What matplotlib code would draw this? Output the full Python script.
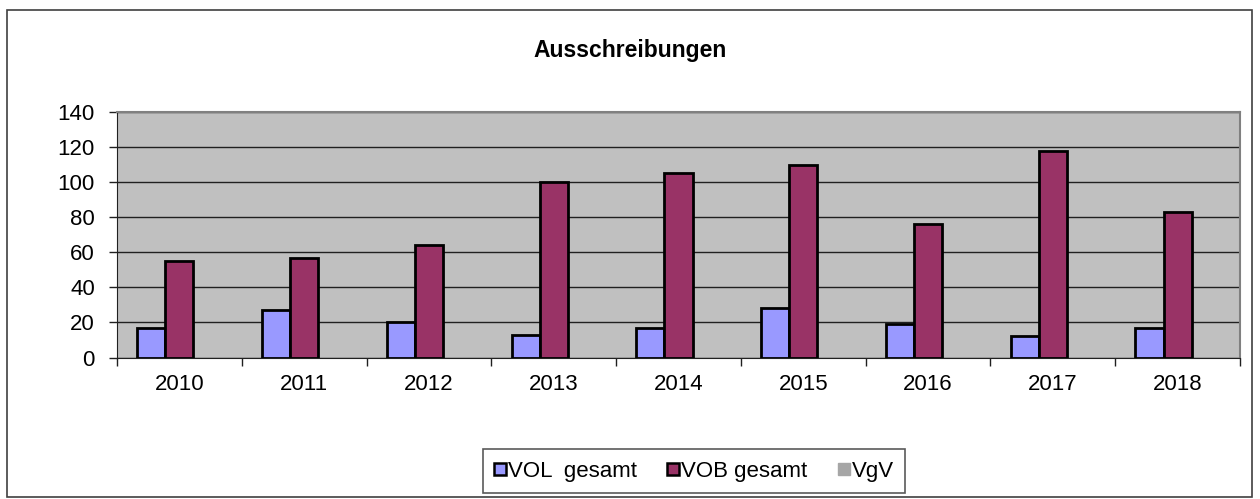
import numpy as np
import matplotlib.pyplot as plt
from matplotlib.patches import Rectangle
from matplotlib.lines import Line2D

plt.rcParams['font.family'] = ['Liberation Sans', 'DejaVu Sans']

years = ['2010', '2011', '2012', '2013', '2014', '2015', '2016', '2017', '2018']
vol = [17, 27, 20, 13, 17, 28, 19, 12, 17]
vob = [55, 57, 64, 100, 105, 110, 76, 118, 83]
vgv = [0, 0, 0, 0, 0, 0, 0, 0, 0]
labels = ['VOL  gesamt', 'VOB gesamt', 'VgV']
colors = ['#9999FF', '#993366', '#A6A6A6']

fig = plt.figure(figsize=(12.6, 4.99), dpi=100)
fig.patch.set_facecolor('white')

# outer chart border
fig.add_artist(Rectangle((7 / 1260, 1 - 497 / 499), 1245 / 1260, 487 / 499,
                         transform=fig.transFigure, fill=False,
                         edgecolor='#404040', linewidth=1.2))

ax = fig.add_axes([117 / 1260, 1 - 357.5 / 499, 1123 / 1260, 245.5 / 499])
ax.set_facecolor('#C0C0C0')

x = np.arange(len(years))
w = 0.225
ax.bar(x - w, vol, w, color=colors[0], edgecolor='black', linewidth=2, zorder=3)
ax.bar(x, vob, w, color=colors[1], edgecolor='black', linewidth=2, zorder=3)
ax.bar(x + w, vgv, w, color=colors[2], linewidth=0, zorder=3)

ax.set_xlim(-0.5, len(years) - 0.5)
ax.set_ylim(0, 140)
ax.set_yticks(range(0, 141, 20))
ax.yaxis.grid(True, color='#202020', linewidth=1)
ax.set_axisbelow(True)

ax.set_xticks(x)
ax.set_xticklabels(years)
ax.set_xticks(np.arange(-0.5, len(years), 1), minor=True)
ax.tick_params(axis='x', which='major', length=0, pad=12, labelsize=16)
ax.tick_params(axis='x', which='minor', length=6, width=1, direction='out', color='#202020')
ax.tick_params(axis='y', length=6, width=1, labelsize=16, pad=10, color='#202020')

for s in ['top', 'right']:
    ax.spines[s].set_color('#808080')
    ax.spines[s].set_linewidth(1.5)
ax.spines['left'].set_color('#202020')
ax.spines['bottom'].set_color('#202020')

fig.text(630 / 1260, 1 - 50 / 499, 'Ausschreibungen', ha='center', va='center',
         fontsize=16.5, fontweight='bold')

handles = [
    Line2D([], [], marker='s', linestyle='none', markersize=9,
           markerfacecolor=colors[0], markeredgecolor='black', markeredgewidth=1.8),
    Line2D([], [], marker='s', linestyle='none', markersize=9,
           markerfacecolor=colors[1], markeredgecolor='black', markeredgewidth=1.8),
    Line2D([], [], marker='s', linestyle='none', markersize=9,
           markerfacecolor=colors[2], markeredgecolor=colors[2]),
]
leg = fig.legend(handles, labels, loc='center', ncol=3,
                 bbox_to_anchor=(694 / 1260, 1 - 471 / 499),
                 frameon=True, fancybox=False, fontsize=16,
                 handlelength=0.5, handletextpad=0.1, columnspacing=1.4,
                 borderpad=0.5, borderaxespad=0)
leg.get_frame().set_edgecolor('#303030')
leg.get_frame().set_linewidth(1.2)

fig.savefig('out.png', dpi=100)
